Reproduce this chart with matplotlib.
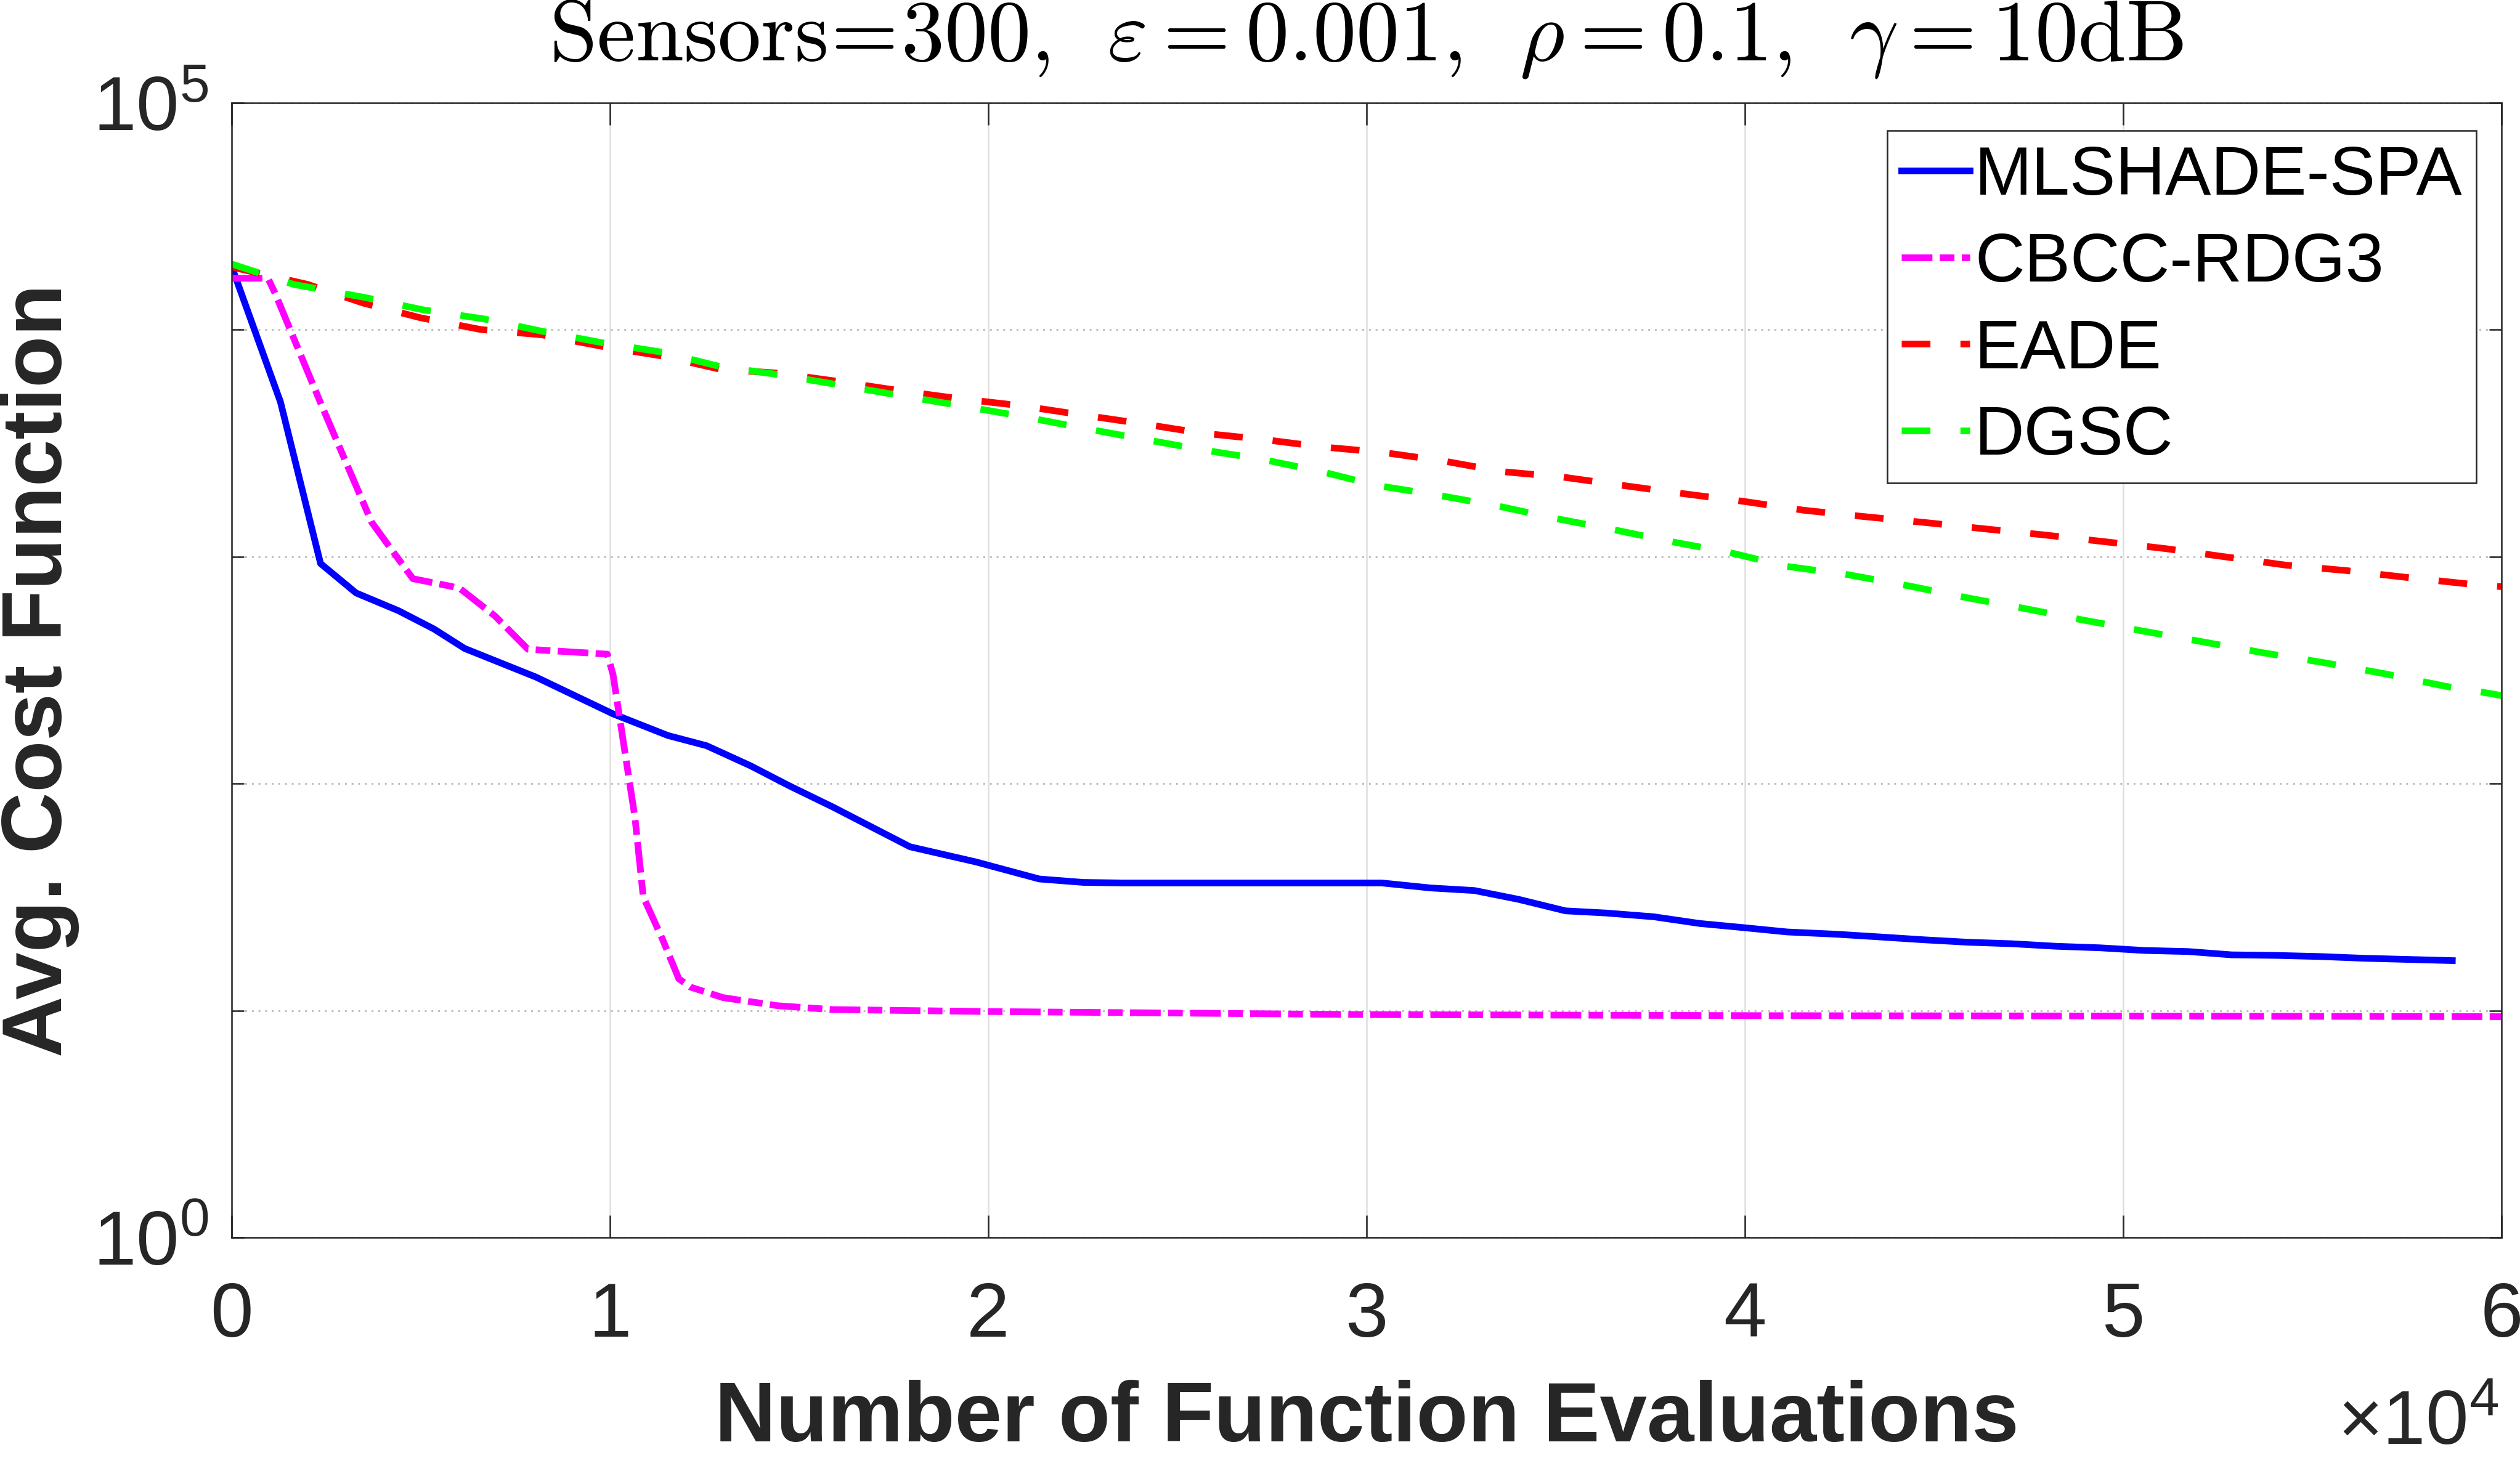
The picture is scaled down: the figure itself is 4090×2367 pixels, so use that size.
import numpy as np
import matplotlib
matplotlib.use("Agg")
import matplotlib.pyplot as plt
from matplotlib.ticker import FixedLocator, NullLocator, FuncFormatter

plt.rcParams['font.family'] = ['Liberation Sans', 'DejaVu Sans']
plt.rcParams['mathtext.fontset'] = 'custom'
plt.rcParams['mathtext.rm'] = 'Liberation Sans'
plt.rcParams['mathtext.it'] = 'Liberation Sans:italic'
plt.rcParams['mathtext.bf'] = 'Liberation Sans:bold'

# ---- data (x = function evaluations, y = avg. cost) ----
mlshade_x = [0, 1290, 2350, 3290, 4410, 5350, 6160, 8040, 10080, 11530, 12550, 13710,
             14730, 15890, 17930, 19670, 21350, 22520, 23550, 30400, 31690, 32850,
             34020, 35260, 36340, 37590, 38800, 39960, 41120, 42410, 43580, 44740,
             45900, 47060, 48230, 49390, 50560, 51720, 52870, 54040, 55210, 56370,
             57530, 58700]
mlshade_y = [19010, 4808, 933, 692, 578, 480, 394, 295, 203, 163, 147, 120,
             98, 78.9, 52.7, 45.2, 38.0, 36.7, 36.5, 36.5, 34.7, 33.8,
             30.9, 27.5, 26.9, 25.9, 24.2, 23.2, 22.2, 21.7, 21.1, 20.5,
             20.0, 19.7, 19.2, 18.9, 18.4, 18.2, 17.6, 17.5, 17.3, 17.0,
             16.8, 16.6]

cbcc_x = [0, 960, 1150, 2390, 3700, 4245, 4790, 5790, 6040, 6960, 7830, 9930,
          10080, 10660, 10880, 11390, 11820, 12120, 12990, 14440, 15890, 20000,
          30000, 40000, 50000, 60000]
cbcc_y = [16870, 16870, 14450, 4592, 1419, 1064, 800, 741, 723, 548, 391, 372,
          303, 71.0, 31.7, 20.6, 13.8, 12.7, 11.4, 10.5, 10.1, 9.9,
          9.6, 9.5, 9.46, 9.4]

eade_x = [0, 2010, 3470, 4990, 6590, 8190, 9790, 11390, 12910, 14440, 15920,
          17650, 19250, 20840, 22430, 24030, 25620, 27210, 28810, 30410, 31990,
          33590, 35180, 36770, 38360, 39960, 41550, 43140, 44740, 46330, 47920,
          49520, 51110, 52710, 54300, 55890, 57480, 59230, 60000]
eade_y = [18900, 15849, 13122, 11298, 10023, 9506, 8453, 7656, 6699, 6442, 5957,
          5395, 4966, 4634, 4227, 3864, 3508, 3296, 3048, 2884, 2649,
          2371, 2244, 2061, 1897, 1754, 1603, 1503, 1416, 1327, 1247,
          1164, 1086, 998, 918, 869, 811, 755, 738]

dgsc_x = [0, 1640, 3530, 5060, 6660, 8190, 9790, 11390, 12910, 14440, 16060,
          17650, 19250, 20840, 22430, 24030, 25620, 27210, 28810, 30260, 31850,
          33450, 34980, 36480, 38070, 39610, 41120, 42710, 44310, 45900, 47490,
          48940, 50530, 52120, 53710, 55320, 56910, 58500, 59800, 60000]
dgsc_y = [19500, 15849, 13868, 12246, 11169, 9863, 8770, 7962, 6887, 6353, 5715,
          5140, 4634, 4169, 3707, 3311, 2965, 2692, 2371, 2061, 1871,
          1675, 1476, 1321, 1164, 1042, 906, 834, 745, 658, 587,
          526, 470, 421, 377, 341, 305, 269, 248, 244]

labels = ['MLSHADE-SPA', 'CBCC-RDG3', 'EADE', 'DGSC']
x_ticks = [0, 10000, 20000, 30000, 40000, 50000, 60000]
y_ticks = [1, 10, 100, 1000, 10000, 100000]
y_ticklabels = [r'$\mathrm{10^{0}}$', '', '', '', '', r'$\mathrm{10^{5}}$']

dark = '#262626'

fig = plt.figure(figsize=(4090 / 300, 2367 / 300), dpi=300)
ax = fig.add_axes([0.09193, 0.15125, 0.90073, 0.7782])

lw = 2.6
ax.plot(mlshade_x, mlshade_y, color='#0000ff', lw=lw, label=labels[0])
ax.plot(cbcc_x, cbcc_y, color='#ff00ff', lw=lw, dashes=(4.6, 1.1, 2.2, 1.1), label=labels[1])
ax.plot(eade_x, eade_y, color='#ff0000', lw=lw, dashes=(4.3, 4.5), label=labels[2])
ax.plot(dgsc_x, dgsc_y, color='#00ff00', lw=lw, dashes=(4.3, 4.5), label=labels[3])

ax.set_yscale('log')
ax.set_xlim(0, 60000)
ax.set_ylim(1, 1e5)
ax.xaxis.set_major_locator(FixedLocator(x_ticks))
ax.xaxis.set_major_formatter(FuncFormatter(lambda v, p: f'{v / 1e4:g}'))
ax.set_yticks(y_ticks)
ax.set_yticklabels(y_ticklabels)
ax.yaxis.set_minor_locator(NullLocator())
ax.xaxis.set_minor_locator(NullLocator())

ax.set_axisbelow(True)
ax.xaxis.grid(True, color='#dfdfdf', lw=0.6, ls='-')
ax.yaxis.grid(True, color='#bdbdbd', lw=0.7, ls=(0, (1, 2.7)))

ax.tick_params(axis='both', direction='in', top=True, right=True,
               colors=dark, width=0.6, labelsize=30)
ax.tick_params(axis='x', length=8.6, pad=17)
ax.tick_params(axis='y', length=4.8, pad=9)
for s in ax.spines.values():
    s.set_color(dark)
    s.set_linewidth(0.6)

ax.set_xlabel('Number of Function Evaluations', fontsize=33, fontweight='bold', color=dark)
ax.xaxis.set_label_coords(0.5, -0.1254)
ax.set_ylabel('Avg. Cost Function', fontsize=33, fontweight='bold', color=dark)
ax.yaxis.set_label_coords(-0.067, 0.5)

fig.text(4055 / 4090, 22 / 2367, r'$\times\mathrm{10^{4}}$', ha='right', va='baseline',
         fontsize=30, color=dark)

title = (r'$\mathrm{Sensors}\!=\!\mathrm{300},\ \,\varepsilon = 0.001,\ \,'
         r'\rho = 0.1,\ \,\gamma = 10\mathrm{dB}$')
fig.text(2218 / 4090, 1 - 98 / 2367, title, ha='center', va='baseline',
         fontsize=33.7, math_fontfamily='cm', color='black')

leg = ax.legend(loc='upper right', bbox_to_anchor=(0.9889, 0.9753), borderaxespad=0,
                fontsize=26.8, frameon=True, fancybox=False, edgecolor=dark,
                framealpha=1, borderpad=0.2, handlelength=1.0, handletextpad=0.07,
                labelspacing=0.33)
leg.get_frame().set_linewidth(0.6)

fig.savefig('out.png', dpi=300, facecolor='white')
